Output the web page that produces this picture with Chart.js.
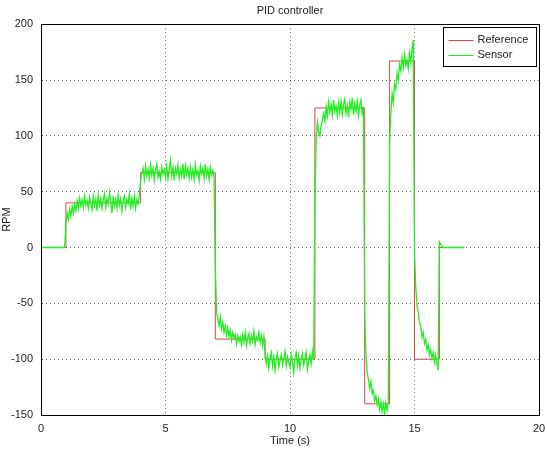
<!DOCTYPE html>
<html>
<head>
<meta charset="utf-8">
<script src="https://cdn.jsdelivr.net/npm/chart.js@4/dist/chart.umd.min.js"></script>
<style>
    body { margin: 0; background: #fff; }
    #wrap { width: 547px; height: 452px; }
</style>
</head>
<body>
<div id="wrap"><canvas id="myChart" width="547" height="452"></canvas></div>
<script>
// reference setpoint: value held from each time until the next one
const refTimes  = [0, 1, 4, 7, 9, 11, 13, 14, 15, 16, 17];
const refValues = [0, 40, 67, -82, -100, 125, -140, 167, -100, 0, 0];

// sensor reading, one sample every 0.05 s starting at 0 s
const sensorStart = 0;
const sensorStep = 0.05;
const sensorRpm = [
    // 0 s
    0, 0, 0, 0, 0, 0, 0, 0, 0, 0, 0, 0, 0, 0, 0, 0, 0, 0, 0, 0,
    // 1 s
    22, 31, 25, 34, 28, 37, 31, 39, 33, 42, 35, 44, 37, 43, 36, 46, 38, 42, 35, 45,
    // 2 s
    39, 34, 46, 37, 43, 33, 47, 38, 44, 35, 42, 48, 36, 44, 39, 49, 41, 31, 46, 37,
    // 3 s
    43, 35, 47, 38, 44, 33, 42, 46, 36, 43, 39, 48, 34, 44, 37, 46, 35, 43, 39, 47,
    // 4 s
    60, 66, 71, 61, 73, 64, 70, 62, 74, 65, 71, 60, 69, 75, 63, 68, 61, 72, 66, 70,
    // 5 s
    63, 73, 61, 70, 78, 64, 72, 60, 71, 66, 74, 62, 70, 64, 75, 61, 73, 65, 71, 62,
    // 6 s
    72, 63, 70, 61, 74, 65, 69, 60, 73, 66, 71, 62, 75, 64, 70, 61, 72, 65, 69, 63,
    // 7 s
    -15, -58, -64, -70, -62, -73, -67, -76, -70, -79, -72, -80, -74, -83, -76, -81, -78, -86, -79, -84,
    // 8 s
    -80, -87, -78, -85, -76, -88, -81, -77, -86, -79, -84, -75, -87, -80, -83, -76, -85, -79, -88, -80,
    // 9 s
    -95, -104, -97, -108, -99, -94, -106, -98, -110, -100, -95, -107, -101, -96, -105, -99, -93, -106, -98, -103,
    // 10 s
    -107, -96, -103, -112, -98, -94, -106, -97, -108, -100, -95, -105, -99, -94, -109, -101, -96, -104, -93, -101,
    // 11 s
    42, 95, 112, 104, 100, 109, 114, 120, 113, 126, 118, 130, 121, 128, 119, 132, 122, 127, 118, 130,
    // 12 s
    121, 131, 119, 128, 133, 120, 127, 117, 130, 124, 134, 119, 129, 122, 131, 118, 127, 132, 120, 126,
    // 13 s
    -60, -95, -112, -118, -126, -120, -131, -128, -137, -133, -141, -136, -145, -138, -147, -140, -149, -139, -146, -138,
    // 14 s
    95, 120, 138, 130, 146, 142, 156, 150, 164, 158, 170, 161, 173, 163, 168, 160, 174, 166, 177, 186,
    // 15 s
    -5, -35, -52, -58, -67, -70, -80, -76, -86, -82, -92, -87, -96, -91, -99, -94, -103, -96, -104, -110,
    // 16 s
    5, 3, 1, 0, 0, 0, 0, 0, 0, 0, 0, 0, 0, 0, 0, 0, 0, 0, 0, 0,
    // 17 s
    0
];

const FONT = 'Liberation Sans, Arial, sans-serif';

const refPoints = refTimes.map((t, i) => ({ x: t, y: refValues[i] }));
const sensorPoints = sensorRpm.map((v, i) => ({ x: +(sensorStart + i * sensorStep).toFixed(2), y: v }));

// box round the axes plus the legend drawn inside the plot, top right
const frameAndLegend = {
    id: 'frameAndLegend',
    afterDraw(chart) {
        const ctx = chart.ctx;
        const a = chart.chartArea;
        ctx.save();
        ctx.strokeStyle = '#000';
        ctx.lineWidth = 1;
        ctx.strokeRect(Math.round(a.left) + 0.5, Math.round(a.top) + 0.5,
                       Math.round(a.right - a.left), Math.round(a.bottom - a.top));

        const bx = 443.5, by = 27.5, bw = 93, bh = 39;
        ctx.fillStyle = '#fff';
        ctx.fillRect(bx, by, bw, bh);
        ctx.strokeRect(bx, by, bw, bh);

        ctx.font = '11px ' + FONT;
        ctx.textBaseline = 'middle';
        chart.data.datasets.forEach((ds, i) => {
            const y = Math.round(by + 12 + i * 15);
            ctx.fillStyle = ds.borderColor;
            ctx.fillRect(bx + 5, y, 25, 1);
            ctx.fillStyle = '#222';
            ctx.fillText(ds.label, bx + 34, y);
        });
        ctx.restore();
    }
};

const ctx = document.getElementById('myChart');
const chart = new Chart(ctx, {
    type: 'line',
    data: {
        datasets: [
            {
                label: 'Reference',
                data: refPoints,
                borderColor: '#e04848',
                borderWidth: 1,
                stepped: true,
                pointRadius: 0,
                order: 2
            },
            {
                label: 'Sensor',
                data: sensorPoints,
                borderColor: '#22ee22',
                borderWidth: 1.3,
                pointRadius: 0,
                tension: 0,
                order: 1
            }
        ]
    },
    options: {
        responsive: false,
        animation: false,
        events: [],
        layout: { padding: { left: 0, right: 8, top: 0, bottom: 0 } },
        scales: {
            x: {
                type: 'linear',
                min: 0,
                max: 20,
                ticks: { stepSize: 5, color: '#222', font: { family: FONT, size: 11 }, padding: 7, maxRotation: 0 },
                grid: { color: 'rgba(0,0,0,0.6)', drawTicks: false },
                border: { display: true, color: '#000', dash: [1, 3] },
                title: { display: true, text: 'Time (s)', color: '#222', font: { family: FONT, size: 11 }, padding: { top: 0, bottom: 4 } },
                afterFit: (scale) => {
                    scale.height = 37;
                    scale.paddingLeft = 0;
                    scale.paddingRight = 0;
                }
            },
            y: {
                min: -150,
                max: 200,
                ticks: { stepSize: 50, color: '#222', font: { family: FONT, size: 11 }, padding: 8 },
                grid: { color: 'rgba(0,0,0,0.6)', drawTicks: false },
                border: { display: true, color: '#000', dash: [1, 3] },
                title: { display: true, text: 'RPM', color: '#222', font: { family: FONT, size: 11 }, padding: 0 },
                afterFit: (scale) => {
                    scale.width = 41;
                    scale.paddingTop = 0;
                    scale.paddingBottom = 0;
                }
            }
        },
        plugins: {
            legend: { display: false },
            tooltip: { enabled: false },
            title: {
                display: true,
                text: 'PID controller',
                fullSize: false,
                color: '#222',
                font: { family: FONT, size: 11, weight: 'normal' },
                padding: { top: 4, bottom: 7 }
            }
        }
    },
    plugins: [frameAndLegend]
});
</script>
</body>
</html>
